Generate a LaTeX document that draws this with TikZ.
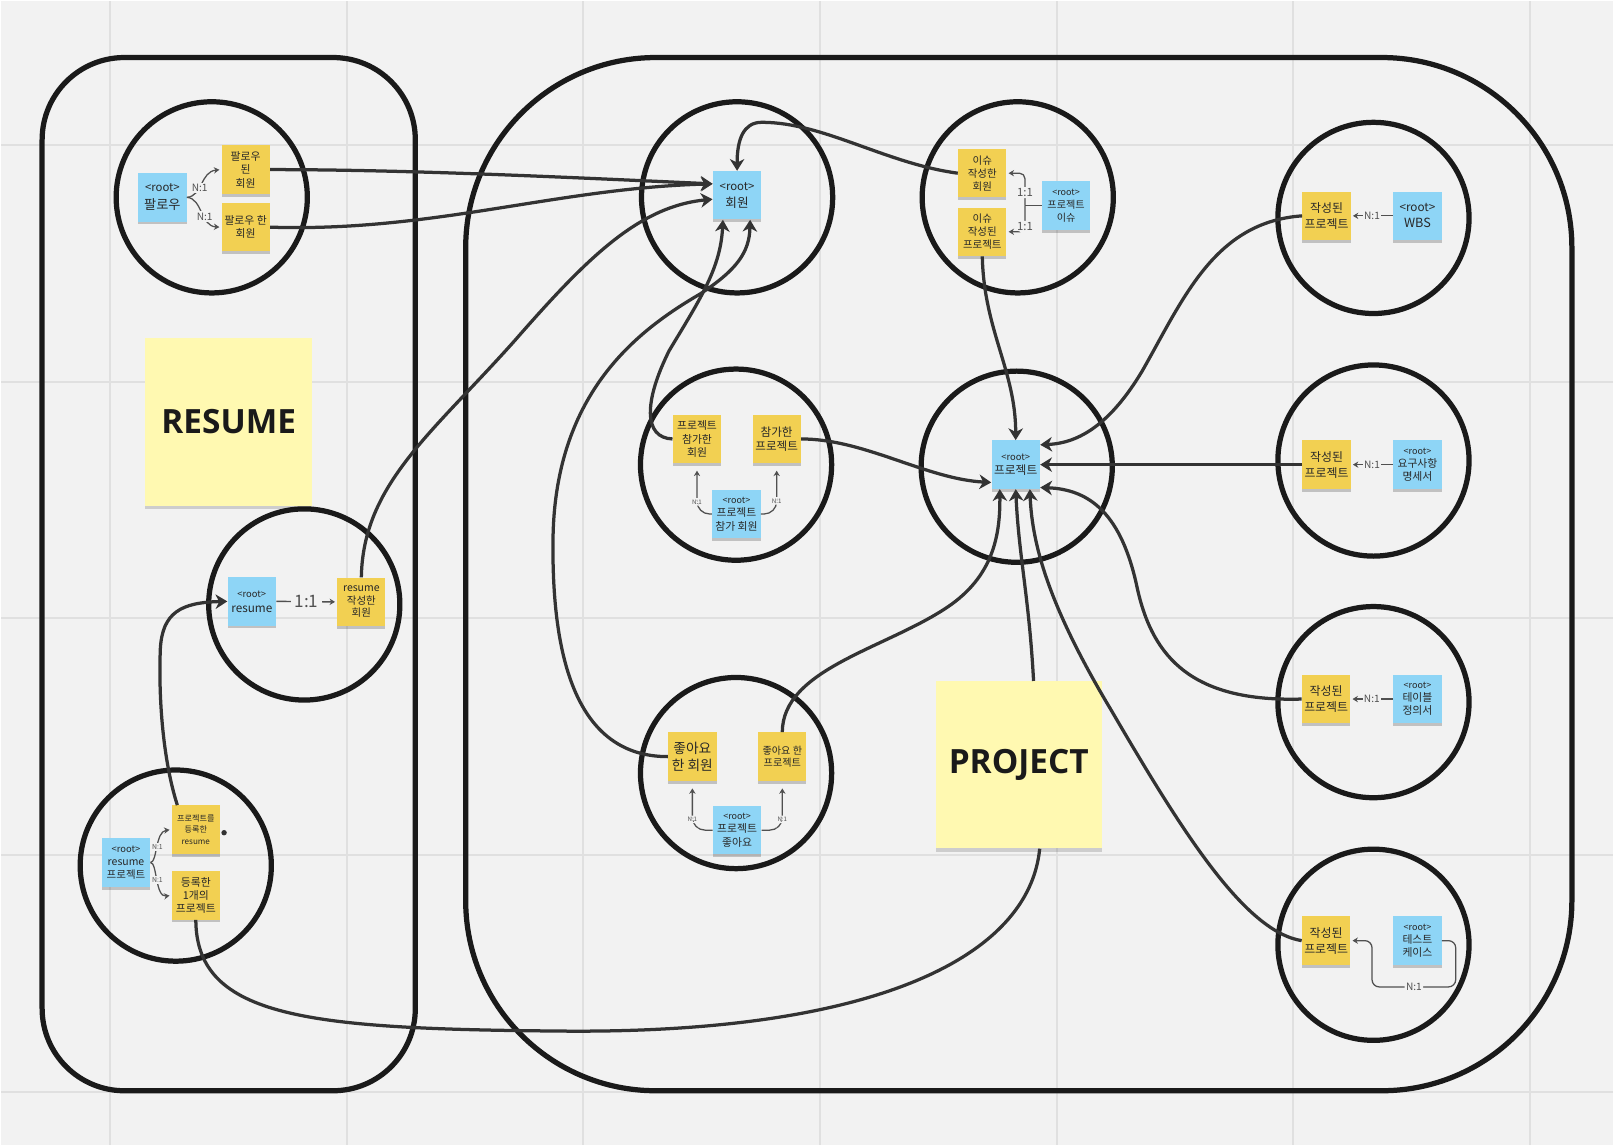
\documentclass[tikz,border=0pt]{standalone}
\usepackage{fontspec}
\setmainfont{Noto Sans CJK KR}
\newfontfamily\titlefont{Open Sans}
\usetikzlibrary{arrows.meta,shadows}

\definecolor{bgcol}{RGB}{242,242,242}
\definecolor{gridcol}{RGB}{224,224,224}
\definecolor{ringcol}{RGB}{26,26,26}
\definecolor{conncol}{RGB}{51,51,51}
\definecolor{smallcol}{RGB}{80,80,80}
\definecolor{notey}{RGB}{242,208,82}
\definecolor{noteb}{RGB}{142,213,246}
\definecolor{bigy}{RGB}{255,249,177}
\definecolor{notetext}{RGB}{40,40,40}

\newcommand{\rootlbl}[1][5]{{\fontsize{#1}{#1}\selectfont<root>}}

\tikzset{
	ring/.style={draw=ringcol, line width=2.9pt},
	note/.style={minimum width=0.94cm, minimum height=0.94cm, inner sep=0pt, align=center, text=notetext,
		font=\fontsize{6}{7.4}\selectfont,
		drop shadow={shadow xshift=0pt, shadow yshift=-1.6pt, opacity=0.2, fill=black}},
	ynote/.style={note, fill=notey},
	bnote/.style={note, fill=noteb},
	bignote/.style={fill=bigy, minimum width=3.24cm, minimum height=3.25cm, text=ringcol,
		font=\titlefont\bfseries\fontsize{18.5}{20}\selectfont,
		drop shadow={shadow xshift=0pt, shadow yshift=-2pt, opacity=0.15, fill=black}},
	conn/.style={draw=conncol, line width=1.8pt, -{Stealth[length=6.5pt,width=8pt,inset=2pt]}},
	sconn/.style={draw=smallcol, line width=0.7pt, -{Stealth[length=3pt,width=3.5pt]}, shorten >=1pt},
	lbl/.style={fill=bgcol, inner sep=0.8pt, text=smallcol, font=\fontsize{5.6}{6}\selectfont},
}

\begin{document}
\begin{tikzpicture}[x=0.02cm, y=-0.02cm]
		%%%%% START %%%%%
		
		\fill[bgcol] (0,0) rectangle (1568,1113);
		\foreach \i in {0,...,6}
			\draw[gridcol, line width=1.1pt] ({106+230.2*\i},0) -- ({106+230.2*\i},1113);
		\foreach \j in {0,...,4}
			\draw[gridcol, line width=1.1pt] (0,{140+230.2*\j}) -- (1568,{140+230.2*\j});
		
		% frames
		\draw[ring, rounded corners=1.6cm] (40,55) rectangle (403,1060);
		\draw[ring, rounded corners=3.7cm] (452,55) rectangle (1528,1060);
		
		% circles
		\draw[ring] (205,191) circle[radius=1.86cm];
		\draw[ring] (295,587) circle[radius=1.86cm];
		\draw[ring] (170,841) circle[radius=1.86cm];
		\draw[ring] (716,191) circle[radius=1.86cm];
		\draw[ring] (989,191) circle[radius=1.86cm];
		\draw[ring] (1335,211) circle[radius=1.86cm];
		\draw[ring] (715,451) circle[radius=1.86cm];
		\draw[ring] (988,453) circle[radius=1.86cm];
		\draw[ring] (1335,447) circle[radius=1.86cm];
		\draw[ring] (715,751) circle[radius=1.86cm];
		\draw[ring] (1335,682) circle[radius=1.86cm];
		\draw[ring] (1335,918) circle[radius=1.86cm];
		
		% big notes
		\node[bignote] (rnote) at (221.5,409.5) {RESUME};
		\node[bignote] (pnote) at (990,743) {PROJECT};
		
		% resume side
		\node[bnote, font=\fontsize{7.3}{10}\selectfont] (fol) at (157,191) {\rootlbl[6.3]\\팔로우};
		\node[ynote] (folA) at (238,164) {팔로우\\된\\회원};
		\node[ynote] (folB) at (238,220) {팔로우 한\\회원};
		
		\node[bnote, font=\fontsize{6.5}{8.3}\selectfont] (res) at (244,584) {\rootlbl[5.2]\\resume};
		\node[ynote, font=\fontsize{5.8}{6.9}\selectfont] (resW) at (350.5,584.5) {resume\\작성한\\회원};
		
		\node[bnote, font=\fontsize{5.8}{7}\selectfont] (rp) at (121.6,838) {\rootlbl[5.2]\\resume\\프로젝트};
		\node[ynote, font=\fontsize{4.5}{6.4}\selectfont] (rpA) at (189.5,806) {프로젝트를\\등록한\\resume};
		\node[ynote] (rpB) at (189.5,870) {등록한\\1개의\\프로젝트};
		
		% project side
		\node[bnote, font=\fontsize{7}{9.2}\selectfont] (mem) at (716,189) {\rootlbl[6.3]\\회원};
		
		\node[ynote, font=\fontsize{5.8}{7.2}\selectfont] (isA) at (954.5,167.5) {이슈\\작성한\\회원};
		\node[ynote, font=\fontsize{5.8}{7.2}\selectfont] (isB) at (954.5,224.5) {이슈\\작성된\\프로젝트};
		\node[bnote, font=\fontsize{5.6}{7.1}\selectfont] (iss) at (1036,199) {\rootlbl[5]\\프로젝트\\이슈};
		
		\node[ynote, font=\fontsize{6}{7.6}\selectfont] (jnA) at (677,426) {프로젝트\\참가한\\회원};
		\node[ynote, font=\fontsize{6.4}{7.5}\selectfont] (jnB) at (754.5,426) {참가한\\프로젝트};
		\node[bnote] (jn) at (715.4,499) {\rootlbl[5]\\프로젝트\\참가 회원};
		
		\node[ynote, font=\fontsize{7.6}{9.3}\selectfont] (lkA) at (672.5,735) {좋아요\\한 회원};
		\node[ynote, font=\fontsize{5.6}{6.6}\selectfont] (lkB) at (760,735) {좋아요 한\\프로젝트};
		\node[bnote, font=\fontsize{6}{7.6}\selectfont] (lk) at (716,806.5) {\rootlbl[5]\\프로젝트\\좋아요};
		
		\node[bnote, font=\fontsize{6.5}{8}\selectfont] (prj) at (987,451) {\rootlbl[5.2]\\프로젝트};
		
		\node[ynote, font=\fontsize{6.6}{8.8}\selectfont] (wbsA) at (1289.4,209) {작성된\\프로젝트};
		\node[bnote, font=\fontsize{7}{9}\selectfont] (wbs) at (1377.8,209) {\rootlbl[6.5]\\WBS};
		\node[ynote, font=\fontsize{6.6}{8.8}\selectfont] (reqA) at (1289.4,451) {작성된\\프로젝트};
		\node[bnote, font=\fontsize{6}{7.2}\selectfont] (req) at (1377.8,451) {\rootlbl[5]\\요구사항\\명세서};
		\node[ynote, font=\fontsize{6.6}{8.8}\selectfont] (tblA) at (1289,679) {작성된\\프로젝트};
		\node[bnote, font=\fontsize{6}{7.2}\selectfont] (tbl) at (1377.8,679) {\rootlbl[5]\\테이블\\정의서};
		\node[ynote, font=\fontsize{6.6}{8.8}\selectfont] (tstA) at (1289,914) {작성된\\프로젝트};
		\node[bnote, font=\fontsize{6}{7.2}\selectfont] (tst) at (1377.8,914) {\rootlbl[5]\\테스트\\케이스};
		
		% small links inside the circles
		\draw[sconn] (fol.east) .. controls (196,190) and (194,166) .. node[lbl, pos=0.4]{N:1} (folA.west);
		\draw[sconn] (fol.east) .. controls (196,192) and (194,219) .. node[lbl, pos=0.6]{N:1} (folB.west);
		\draw[sconn, line width=0.8pt] (res.east) -- node[lbl, font=\fontsize{9.5}{10}\selectfont, inner xsep=2pt]{1:1} (resW.west);
		\draw[sconn] (rp.east) .. controls (152,838) and (150,808) .. node[lbl, font=\fontsize{3.8}{4}\selectfont]{N:1} (rpA.west);
		\draw[sconn] (rp.east) .. controls (152,838) and (150,872) .. node[lbl, font=\fontsize{3.8}{4}\selectfont]{N:1} (rpB.west);
		\fill[conncol] (217,809) circle[radius=1.5pt];
		
		\coordinate (isj) at (996,199);
		\draw[smallcol, line width=0.7pt] (iss.west) -- (isj);
		\draw[sconn, rounded corners=3pt] (isj) |- node[lbl, pos=0.2, font=\fontsize{6.3}{7}\selectfont]{1:1} (isA.east);
		\draw[sconn, rounded corners=3pt] (isj) |- node[lbl, pos=0.4, font=\fontsize{6.3}{7}\selectfont]{1:1} (isB.east);
		
		\draw[sconn, rounded corners=7pt, shorten >=4pt] (jn.west) -| node[lbl, pos=0.62, font=\fontsize{3.4}{4}\selectfont]{N:1} (jnA.south);
		\draw[sconn, rounded corners=7pt, shorten >=4pt] (jn.east) -| node[lbl, pos=0.63, font=\fontsize{3.4}{4}\selectfont]{N:1} (jnB.south);
		\draw[sconn, rounded corners=7pt, shorten >=4pt] (lk.west) -| node[lbl, pos=0.61, font=\fontsize{3.4}{4}\selectfont]{N:1} (lkA.south);
		\draw[sconn, rounded corners=7pt, shorten >=4pt] (lk.east) -| node[lbl, pos=0.61, font=\fontsize{3.4}{4}\selectfont]{N:1} (lkB.south);
		
		\draw[sconn] (wbs.west) -- node[lbl]{N:1} (wbsA.east);
		\draw[sconn] (req.west) -- node[lbl]{N:1} (reqA.east);
		\draw[sconn] (tbl.west) -- node[lbl]{N:1} (tblA.east);
		\draw[sconn, rounded corners=4pt] (tst.east) -- (1415,914) -- (1415,959) -- node[lbl]{N:1} (1333.6,959) -- (1333.6,914) -- (tstA.east);
		
		% long links
		\draw[conn] (folA.east) .. controls (400,164) and (560,172) .. (mem.155);
		\draw[conn] (folB.east) .. controls (420,225) and (540,182) .. (mem.155);
		\draw[conn] (resW.north) .. controls (352,470) and (420,420) .. (500,330) .. controls (570,250) and (620,200) .. (mem.189);
		\draw[conn] (isA.west) .. controls (860,158) and (800,118) .. (740,118) .. controls (722,118) and (716,135) .. (mem.north);
		\draw[conn] (jnA.west) .. controls (625,425) and (625,390) .. (650,340) .. controls (680,290) and (700,260) .. (mem.240);
		\draw[conn] (lkA.west) .. controls (560,735) and (535,640) .. (537,520) .. controls (540,380) and (620,320) .. (680,285) .. controls (715,262) and (728,245) .. (mem.298);
		
		\draw[conn] (isB.south) .. controls (956,320) and (987,360) .. (prj.north);
		\draw[conn] (jnB.east) .. controls (840,426) and (900,465) .. (prj.216);
		\draw[conn] (lkB.north) .. controls (760,650) and (860,630) .. (920,590) .. controls (965,560) and (972,520) .. (prj.237);
		\draw[conncol, line width=1.8pt] (rpB.south) .. controls (190,990) and (300,1000) .. (550,1002) .. controls (850,1004) and (1000,930) .. (pnote.284);
		\draw[conn] (pnote.80) .. controls (1000,580) and (990,540) .. (prj.south);
		\draw[conn] (rpA.127) .. controls (158,740) and (153,680) .. (155,630) .. controls (157,595) and (175,585) .. (res.west);
		
		\draw[conn] (wbsA.west) .. controls (1180,215) and (1150,290) .. (1110,360) .. controls (1080,410) and (1050,430) .. (prj.39);
		\draw[conn] (reqA.west) -- (prj.east);
		\draw[conn] (tblA.west) .. controls (1160,682) and (1120,640) .. (1105,570) .. controls (1090,500) and (1060,475) .. (prj.317);
		\draw[conn] (tstA.west) .. controls (1210,905) and (1150,810) .. (1080,690) .. controls (1020,590) and (1003,530) .. (prj.300);
		
		%%%%% END %%%%%
\end{tikzpicture}
\end{document}
